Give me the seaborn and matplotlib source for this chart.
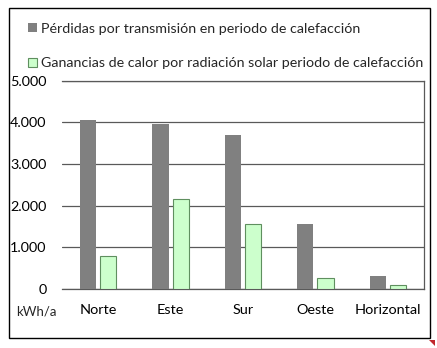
import matplotlib
matplotlib.use("Agg")
import matplotlib.pyplot as plt
from matplotlib.patches import Rectangle, Polygon
import seaborn as sns
import pandas as pd

categories = ["Norte", "Este", "Sur", "Oeste", "Horizontal"]
perdidas = [4050, 3960, 3690, 1560, 310]
ganancias = [790, 2150, 1560, 260, 100]
series_names = [
    "Pérdidas por transmisión en periodo de calefacción",
    "Ganancias de calor por radiación solar periodo de calefacción",
]
y_ticks = [0, 1000, 2000, 3000, 4000, 5000]
y_tick_labels = ["0", "1.000", "2.000", "3.000", "4.000", "5.000"]
unit_label = "kWh/a"

df = pd.DataFrame({
    "orientacion": categories * 2,
    "serie": [series_names[0]] * len(categories) + [series_names[1]] * len(categories),
    "valor": perdidas + ganancias,
})

sns.set_style("white")
plt.rcParams["font.family"] = ["Lato", "DejaVu Sans"]
plt.rcParams["font.size"] = 10

fig = plt.figure(figsize=(4.37, 3.48), dpi=100)
ax = fig.add_axes([62 / 437, 1 - 289 / 348, (424 - 62) / 437, (289 - 80.5) / 348])

palette = {series_names[0]: "#808080", series_names[1]: "#CCFFCC"}
sns.barplot(data=df, x="orientacion", y="valor", hue="serie", order=categories,
            hue_order=series_names, palette=palette, width=0.56, gap=0.2,
            saturation=1, ax=ax, legend=False, zorder=3)

# green bars get a thin darker outline
n = len(categories)
for i, patch in enumerate(ax.patches):
    if i >= n:
        patch.set_edgecolor("#5f8f5f")
        patch.set_linewidth(0.8)
    else:
        patch.set_edgecolor("none")

ax.set_ylim(0, 5000)
ax.set_xlim(-0.5, n - 0.5)
ax.set_yticks(y_ticks)
ax.set_yticklabels(y_tick_labels)
ax.set_xlabel("")
ax.set_ylabel("")
ax.yaxis.grid(True, color="#595959", linewidth=0.9, zorder=0)
ax.set_axisbelow(True)
ax.tick_params(axis="both", length=0, labelsize=10.4, colors="#000000")
ax.tick_params(axis="y", pad=11)
ax.tick_params(axis="x", pad=11)

ax.spines["left"].set_visible(False)
for side in ["right", "top", "bottom"]:
    ax.spines[side].set_visible(True)
    ax.spines[side].set_color("#595959")
    ax.spines[side].set_linewidth(0.9)

fig.text(36 / 437, 1 - 311 / 348, unit_label, ha="center", va="center", fontsize=9.5)

# legend entries stacked at the top of the frame
handles = [Rectangle((0, 0), 1, 1, facecolor="#808080", edgecolor="none"),
           Rectangle((0, 0), 1, 1, facecolor="#CCFFCC", edgecolor="#5f8f5f", linewidth=0.8)]
fig.legend(handles, series_names, loc="upper left",
           bbox_to_anchor=(28 / 437, 1 - 23 / 348), frameon=False,
           handlelength=0.6, handleheight=0.6, handletextpad=0.3,
           labelspacing=1.55, fontsize=10.3, borderaxespad=0, borderpad=0)

# outer chart frame
fig.patches.append(Rectangle((9 / 437, 1 - 337.5 / 348), (430 - 9) / 437, (337.5 - 8) / 348,
                             transform=fig.transFigure, fill=False,
                             edgecolor="#000000", linewidth=1.0))
fig.patches.append(Polygon([(429 / 437, 1 - 340 / 348), (435 / 437, 1 - 340 / 348),
                            (435 / 437, 1 - 346 / 348)], closed=True,
                           transform=fig.transFigure, facecolor="#c0282d",
                           edgecolor="none"))

fig.savefig("out.png", dpi=100)
